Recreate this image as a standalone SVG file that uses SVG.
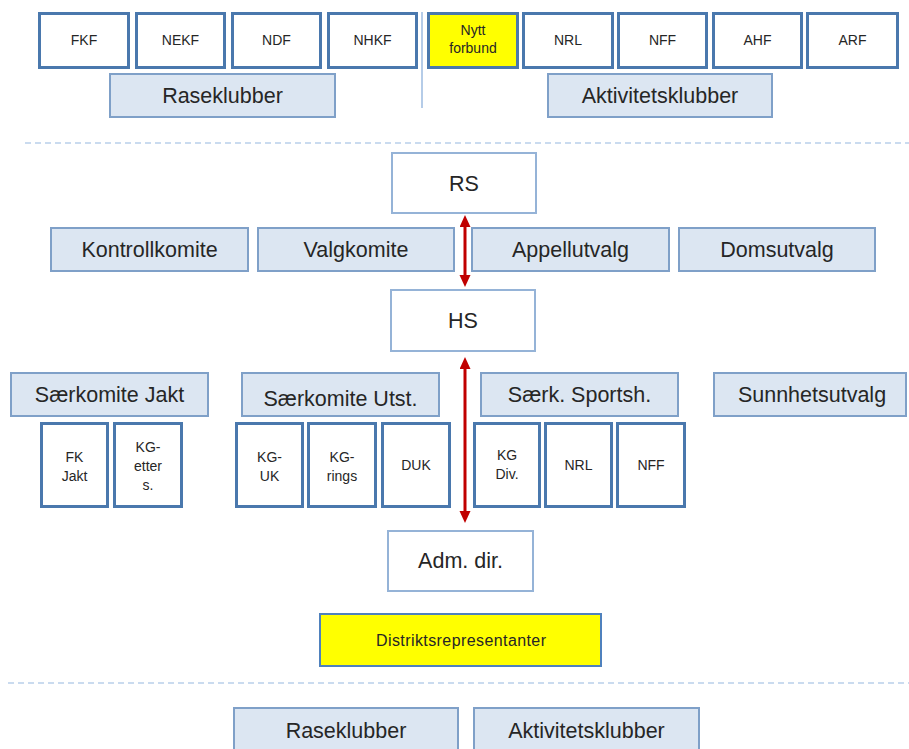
<svg xmlns="http://www.w3.org/2000/svg" width="909" height="749" viewBox="0 0 909 749">
<style>
text{font-family:"Liberation Sans",Arial,sans-serif;fill:#262626;text-anchor:middle}
.big{font-size:21.5px}
.sm{font-size:14px}
.lb{fill:#dce6f2;stroke:#7fa0c8;stroke-width:2}
.sb{fill:#ffffff;stroke:#4a78ad;stroke-width:3}
.wb{fill:#ffffff;stroke:#95b3d7;stroke-width:2}
.yb{fill:#ffff00;stroke:#4f81bd;stroke-width:2}
.dash{stroke:#b9d0ea;stroke-width:1.5;stroke-dasharray:6 4;fill:none}
.arr{stroke:#c00000;stroke-width:3;fill:none}
</style>
<defs>
<marker id="ah" markerUnits="userSpaceOnUse" markerWidth="14" markerHeight="12" refX="2" refY="5.5" orient="auto-start-reverse">
<path d="M0,0 L12,5.5 L0,11 z" fill="#c00000"/>
</marker>
</defs>
<g id="separators">
<line class="dash" x1="25" y1="143" x2="909" y2="143"/>
<line class="dash" x1="8" y1="683" x2="909" y2="683"/>
<line x1="422" y1="12" x2="422" y2="108" stroke="#9dbbe0" stroke-width="1.5"/>
</g>
<g id="n-fkf"><rect class="sb" x="39.5" y="13.5" width="89" height="54"/><text class="sm" x="84" y="45">FKF</text></g>
<g id="n-nekf"><rect class="sb" x="136.5" y="13.5" width="88" height="54"/><text class="sm" x="180.5" y="45">NEKF</text></g>
<g id="n-ndf"><rect class="sb" x="232.5" y="13.5" width="88" height="54"/><text class="sm" x="276.5" y="45">NDF</text></g>
<g id="n-nhkf"><rect class="sb" x="328.5" y="13.5" width="88" height="54"/><text class="sm" x="372.5" y="45">NHKF</text></g>
<g id="n-nytt"><rect class="sb" x="428.5" y="13.5" width="89" height="54" style="fill:#ffff00"/><text class="sm" x="473" y="35">Nytt</text><text class="sm" x="473" y="53">forbund</text></g>
<g id="n-nrl-top"><rect class="sb" x="523.5" y="13.5" width="89" height="54"/><text class="sm" x="568" y="45">NRL</text></g>
<g id="n-nff-top"><rect class="sb" x="618.5" y="13.5" width="88" height="54"/><text class="sm" x="662.5" y="45">NFF</text></g>
<g id="n-ahf"><rect class="sb" x="713.5" y="13.5" width="88" height="54"/><text class="sm" x="757.5" y="45">AHF</text></g>
<g id="n-arf"><rect class="sb" x="807.5" y="13.5" width="90" height="54"/><text class="sm" x="852.5" y="45">ARF</text></g>
<g id="n-raseklubber-top"><rect class="lb" x="110" y="74" width="225" height="43"/><text class="big" x="222.5" y="103">Raseklubber</text></g>
<g id="n-aktivitetsklubber-top"><rect class="lb" x="548" y="74" width="224" height="43"/><text class="big" x="660" y="103">Aktivitetsklubber</text></g>
<g id="n-rs"><rect class="wb" x="392" y="153" width="144" height="60"/><text class="big" x="464" y="191">RS</text></g>
<g id="n-kontrollkomite"><rect class="lb" x="51" y="228" width="197" height="43"/><text class="big" x="149.5" y="257">Kontrollkomite</text></g>
<g id="n-valgkomite"><rect class="lb" x="258" y="228" width="196" height="43"/><text class="big" x="356" y="257">Valgkomite</text></g>
<g id="n-appellutvalg"><rect class="lb" x="472" y="228" width="197" height="43"/><text class="big" x="570.5" y="257">Appellutvalg</text></g>
<g id="n-domsutvalg"><rect class="lb" x="679" y="228" width="196" height="43"/><text class="big" x="777" y="257">Domsutvalg</text></g>
<g id="n-hs"><rect class="wb" x="391" y="290" width="144" height="61"/><text class="big" x="463" y="328">HS</text></g>
<g id="n-saerkomite-jakt"><rect class="lb" x="11" y="373" width="197" height="43"/><text class="big" x="109.5" y="402">Særkomite Jakt</text></g>
<g id="n-saerkomite-utst"><rect class="lb" x="242" y="373" width="197" height="43"/><text class="big" x="340.5" y="406">Særkomite Utst.</text></g>
<g id="n-saerk-sportsh"><rect class="lb" x="481" y="373" width="197" height="43"/><text class="big" x="579.5" y="402">Særk. Sportsh.</text></g>
<g id="n-sunnhetsutvalg"><rect class="lb" x="714" y="373" width="192" height="43"/><text class="big" x="812" y="402">Sunnhetsutvalg</text></g>
<g id="n-fk-jakt"><rect class="sb" x="41.5" y="423.5" width="66" height="83"/><text class="sm" x="74.5" y="462">FK</text><text class="sm" x="74.5" y="481">Jakt</text></g>
<g id="n-kg-etters"><rect class="sb" x="114.5" y="423.5" width="67" height="83"/><text class="sm" x="148" y="452">KG-</text><text class="sm" x="148" y="471">etter</text><text class="sm" x="148" y="490">s.</text></g>
<g id="n-kg-uk"><rect class="sb" x="236.5" y="423.5" width="66" height="83"/><text class="sm" x="269.5" y="462">KG-</text><text class="sm" x="269.5" y="481">UK</text></g>
<g id="n-kg-rings"><rect class="sb" x="308.5" y="423.5" width="67" height="83"/><text class="sm" x="342" y="462">KG-</text><text class="sm" x="342" y="481">rings</text></g>
<g id="n-duk"><rect class="sb" x="382.5" y="423.5" width="67" height="83"/><text class="sm" x="416" y="470">DUK</text></g>
<g id="n-kg-div"><rect class="sb" x="474.5" y="423.5" width="65" height="83"/><text class="sm" x="507" y="460">KG</text><text class="sm" x="507" y="479">Div.</text></g>
<g id="n-nrl"><rect class="sb" x="545.5" y="423.5" width="66" height="83"/><text class="sm" x="578.5" y="470">NRL</text></g>
<g id="n-nff"><rect class="sb" x="617.5" y="423.5" width="67" height="83"/><text class="sm" x="651" y="470">NFF</text></g>
<g id="n-adm-dir"><rect class="wb" x="388" y="531" width="145" height="60"/><text class="big" x="460.5" y="568">Adm. dir.</text></g>
<g id="n-distrikt"><rect class="yb" x="320" y="614" width="281" height="52"/><text x="461" y="646" style="font-size:16px" textLength="170" lengthAdjust="spacing">Distriktsrepresentanter</text></g>
<g id="n-raseklubber-bottom"><rect class="lb" x="234" y="708" width="224" height="60"/><text class="big" x="346" y="738">Raseklubber</text></g>
<g id="n-aktivitetsklubber-bottom"><rect class="lb" x="474" y="708" width="225" height="60"/><text class="big" x="586.5" y="738">Aktivitetsklubber</text></g>
<g id="connectors">
<line class="arr" x1="465" y1="225" x2="465" y2="277" marker-start="url(#ah)" marker-end="url(#ah)"/>
<line class="arr" x1="465" y1="367" x2="465" y2="513" marker-start="url(#ah)" marker-end="url(#ah)"/>
</g>
</svg>
